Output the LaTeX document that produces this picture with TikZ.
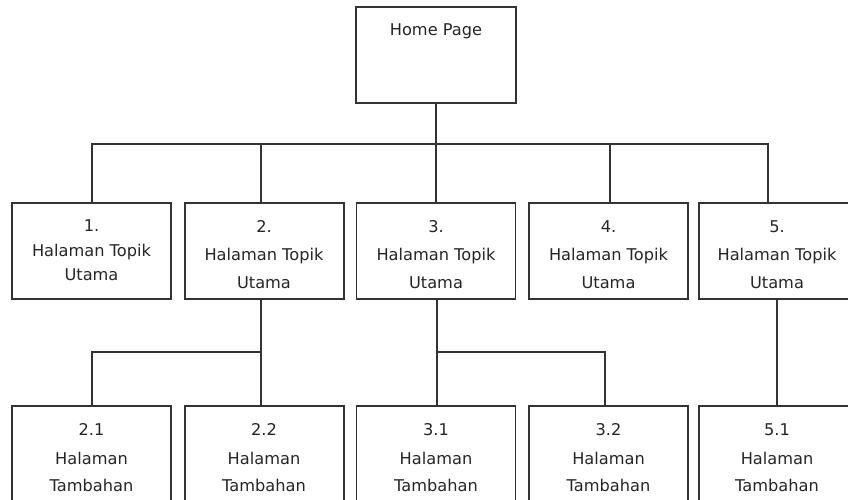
\documentclass[tikz,border=0pt]{standalone}
\usepackage{fontspec}
\setmainfont{DejaVu Sans}
\begin{document}
\begin{tikzpicture}[x=1pt,y=-1pt,
  box/.style={draw=black!80, line width=1.6pt, minimum width=159pt, minimum height=96pt, inner sep=0pt},
  conn/.style={draw=black!80, line width=1.6pt},
  txt/.style={font=\fontsize{16.2}{19}\selectfont, text=black!85, inner sep=0pt, anchor=base}]
\useasboundingbox (0,0) rectangle (848,499);
\clip (0,0) rectangle (848,499);
\fill[white] (0,0) rectangle (848,499);
% boxes
\node[box, minimum width=160pt] (home) at (436,55) {};
\node[box] (b1) at (91.5,251) {};
\node[box] (b2) at (264.5,251) {};
\node[box] (b3) at (436,251) {};
\node[box] (b4) at (608.5,251) {};
\node[box] (b5) at (778.5,251) {};
\node[box] (c21) at (91.5,454) {};
\node[box] (c22) at (264.5,454) {};
\node[box] (c31) at (436,454) {};
\node[box] (c32) at (608.5,454) {};
\node[box] (c51) at (778.5,454) {};
% texts
\node[txt] (thome) at (436,35) {Home Page};
\node[txt] (t1a) at (91.5,231.5) {1.};
\node[txt] (t1b) at (91.5,256.5) {Halaman Topik};
\node[txt] (t1c) at (91.5,280) {Utama};
\node[txt] (t2a) at (264,232) {2.};
\node[txt] (t2b) at (264,260.5) {Halaman Topik};
\node[txt] (t2c) at (264,288.5) {Utama};
\node[txt] (t3a) at (436,232) {3.};
\node[txt] (t3b) at (436,260.5) {Halaman Topik};
\node[txt] (t3c) at (436,288.5) {Utama};
\node[txt] (t4a) at (608.5,232) {4.};
\node[txt] (t4b) at (608.5,260.5) {Halaman Topik};
\node[txt] (t4c) at (608.5,288.5) {Utama};
\node[txt] (t5a) at (777,232) {5.};
\node[txt] (t5b) at (777,260.5) {Halaman Topik};
\node[txt] (t5c) at (777,288.5) {Utama};
\node[txt] (u21a) at (91.5,435) {2.1};
\node[txt] (u21b) at (91.5,464) {Halaman};
\node[txt] (u21c) at (91.5,491) {Tambahan};
\node[txt] (u22a) at (264,435) {2.2};
\node[txt] (u22b) at (264,464) {Halaman};
\node[txt] (u22c) at (264,491) {Tambahan};
\node[txt] (u31a) at (436,435) {3.1};
\node[txt] (u31b) at (436,464) {Halaman};
\node[txt] (u31c) at (436,491) {Tambahan};
\node[txt] (u32a) at (608.5,435) {3.2};
\node[txt] (u32b) at (608.5,464) {Halaman};
\node[txt] (u32c) at (608.5,491) {Tambahan};
\node[txt] (u51a) at (777,435) {5.1};
\node[txt] (u51b) at (777,464) {Halaman};
\node[txt] (u51c) at (777,491) {Tambahan};
% connector coordinates
\coordinate (bus1L) at (92,144);
\coordinate (bus1R) at (768,144);
\coordinate (bus2L) at (92,352);
\coordinate (x2) at (261,0);
\coordinate (x3) at (437,0);
\coordinate (x4) at (610,0);
\coordinate (x32) at (605,0);
\coordinate (x5b) at (777,0);
% level 1 connectors
\draw[conn] (home.south) -- (home.south |- bus1L);
\draw[conn] (b1.north -| bus1L) -- (bus1L) -- (bus1R) -- (b5.north -| bus1R);
\draw[conn] (bus1L -| x2) -- (b2.north -| x2);
\draw[conn] (bus1L -| b3.north) -- (b3.north);
\draw[conn] (bus1L -| x4) -- (b4.north -| x4);
% level 2 connectors
\draw[conn] (b2.south -| x2) -- (c22.north -| x2);
\draw[conn] (c21.north -| bus2L) -- (bus2L) -- (bus2L -| x2);
\draw[conn] (b3.south -| x3) -- (c31.north -| x3);
\draw[conn] (bus2L -| x3) -- (bus2L -| x32) -- (c32.north -| x32);
\draw[conn] (b5.south -| x5b) -- (c51.north -| x5b);
\end{tikzpicture}
\end{document}
